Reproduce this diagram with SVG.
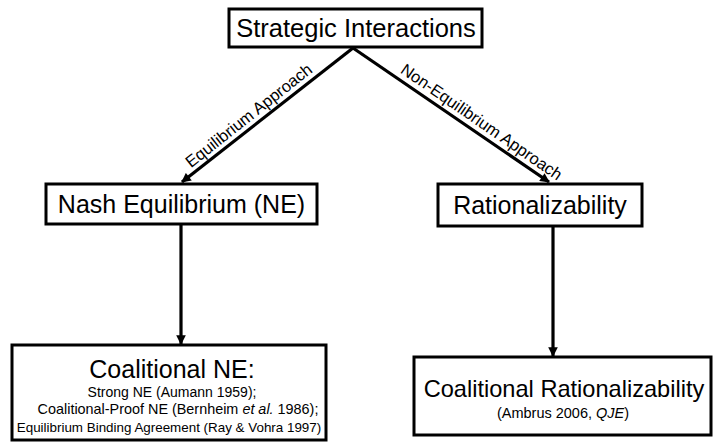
<svg xmlns="http://www.w3.org/2000/svg" width="713" height="446" viewBox="0 0 713 446">
<style>
.box{fill:#fff;stroke:#000;stroke-width:3}
.big{font-family:"Liberation Sans",Arial,sans-serif;font-size:25px;fill:#000;text-anchor:middle}
.small{font-family:"Liberation Sans",Arial,sans-serif;font-size:14px;fill:#000;text-anchor:middle}
.lab{font-family:"Liberation Sans",Arial,sans-serif;font-size:16.5px;fill:#000;text-anchor:middle}
.conn{stroke:#000;stroke-width:3.2;fill:none;marker-end:url(#ah)}
</style>
<defs>
<marker id="ah" viewBox="0 0 10 10" refX="9" refY="5" markerWidth="3.4" markerHeight="3" orient="auto" markerUnits="strokeWidth">
<path d="M0,0 L10,5 L0,10 Z" fill="#000"/>
</marker>
</defs>
<rect width="713" height="446" fill="#fff"/>
<g id="connectors">
<line class="conn" x1="353" y1="48" x2="182" y2="182"/>
<line class="conn" x1="353" y1="48" x2="549" y2="182"/>
<line class="conn" x1="181" y1="225" x2="181" y2="344"/>
<line class="conn" x1="553" y1="227" x2="553" y2="356"/>
<text class="lab" transform="translate(256,124.6) rotate(-38.3)" y="-6">Equilibrium Approach</text>
<text class="lab" transform="translate(475,131.5) rotate(34.6)" y="-6">Non-Equilibrium Approach</text>
</g>
<g id="strategic">
<rect class="box" x="229" y="9" width="253" height="38"/>
<text class="big" x="356" y="37" style="font-size:25.5px">Strategic Interactions</text>
</g>
<g id="nash">
<rect class="box" x="46" y="184" width="271" height="40"/>
<text class="big" x="181.5" y="213">Nash Equilibrium (NE)</text>
</g>
<g id="rational">
<rect class="box" x="438" y="184" width="204" height="42"/>
<text class="big" x="540" y="214">Rationalizability</text>
</g>
<g id="coalne">
<rect class="box" x="12" y="345" width="314" height="95"/>
<text class="big" x="172" y="378">Coalitional NE:</text>
<text class="small" x="172" y="397">Strong NE (Aumann 1959);</text>
<text class="small" x="178" y="414" style="font-size:14.4px">Coalitional-Proof NE (Bernheim <tspan font-style="italic">et al.</tspan> 1986);</text>
<text class="small" x="169" y="432" style="font-size:13.4px">Equilibrium Binding Agreement (Ray &amp; Vohra 1997)</text>
</g>
<g id="coalrat">
<rect class="box" x="414" y="357" width="297" height="78"/>
<text class="big" x="564" y="397" style="font-size:23.6px">Coalitional Rationalizability</text>
<text class="small" x="563" y="418" style="font-size:14.5px">(Ambrus 2006, <tspan font-style="italic">QJE</tspan>)</text>
</g>
</svg>
